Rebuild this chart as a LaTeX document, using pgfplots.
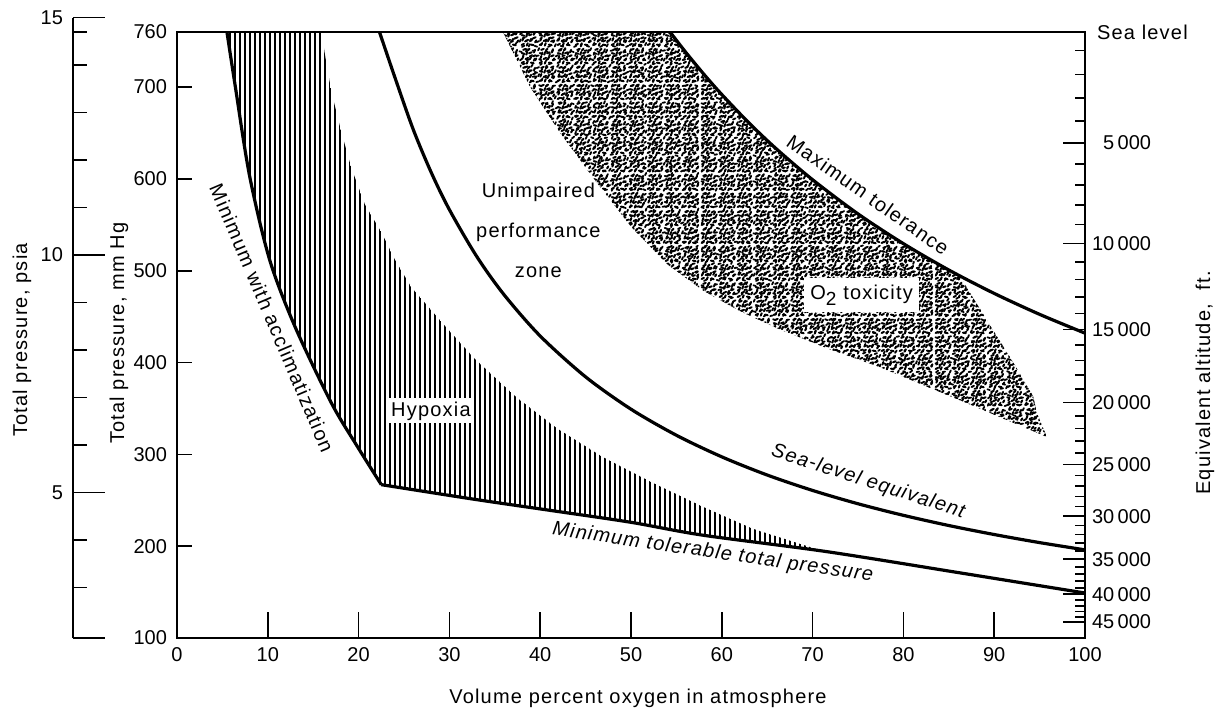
\documentclass[border=0pt]{standalone}
\usepackage{fontspec}
\setmainfont{Liberation Sans}
\newfontfamily\lab{Liberation Sans}[LetterSpace=6]
\newfontfamily\numfont{Liberation Sans}
\usepackage{pgfplots}
\pgfplotsset{compat=1.18}
\usetikzlibrary{patterns,patterns.meta}
\def\sk#1#2#3#4{\pgfpathmoveto{\pgfqpoint{#1pt}{#2pt}}\pgfpathlineto{\pgfqpoint{#3pt}{#4pt}}}
\pgfdeclarepatternformonly{stippleA}{\pgfqpoint{0pt}{0pt}}{\pgfqpoint{9pt}{9pt}}{\pgfqpoint{9pt}{9pt}}{%
 \pgfsetlinewidth{1.0pt}\pgfsetroundcap
 \sk{0.8}{1.0}{2.0}{1.6}\sk{3.4}{0.7}{3.9}{1.9}\sk{5.5}{1.2}{6.9}{0.9}\sk{7.6}{2.3}{8.2}{3.3}%
 \sk{1.2}{3.2}{1.7}{4.5}\sk{2.8}{3.0}{4.1}{3.6}\sk{5.0}{2.9}{5.6}{4.1}\sk{6.6}{4.4}{7.9}{4.9}%
 \sk{0.9}{6.0}{2.2}{5.6}\sk{3.2}{5.2}{3.6}{6.5}\sk{4.6}{5.9}{5.9}{6.4}\sk{7.0}{6.3}{7.6}{7.6}%
 \sk{1.6}{7.6}{2.9}{8.1}\sk{4.0}{7.3}{4.8}{8.2}%
 \pgfusepath{stroke}}
\pgfdeclarepatternformonly{stippleB}{\pgfqpoint{0pt}{0pt}}{\pgfqpoint{13pt}{13pt}}{\pgfqpoint{13pt}{13pt}}{%
 \pgfsetlinewidth{0.9pt}\pgfsetroundcap
 \sk{1.0}{0.8}{2.1}{1.7}\sk{4.3}{1.0}{5.6}{1.2}\sk{7.9}{0.6}{8.5}{1.8}\sk{10.6}{1.4}{11.8}{0.9}%
 \sk{2.6}{3.0}{3.0}{4.2}\sk{5.9}{2.8}{7.1}{3.5}\sk{9.2}{3.0}{10.4}{3.3}\sk{11.9}{3.6}{12.3}{4.8}%
 \sk{0.7}{5.4}{1.9}{5.0}\sk{4.0}{5.2}{4.5}{6.5}\sk{7.3}{5.6}{8.6}{5.9}\sk{10.1}{5.8}{10.7}{7.0}%
 \sk{2.0}{7.6}{3.2}{8.2}\sk{5.4}{7.8}{6.0}{9.0}\sk{8.4}{8.1}{9.7}{7.7}\sk{11.6}{8.4}{12.2}{9.6}%
 \sk{0.9}{10.2}{1.4}{11.4}\sk{3.5}{10.3}{4.8}{10.9}\sk{6.6}{10.6}{7.4}{11.8}\sk{9.4}{10.0}{10.6}{10.5}%
 \sk{2.4}{12.0}{3.5}{12.3}\sk{11.2}{11.6}{12.0}{12.2}%
 \pgfusepath{stroke}}
\newcommand{\fs}{\fontsize{10bp}{12bp}\selectfont}
\pgfplotsset{
  base/.style={at={(0,0)}, anchor=south west, scale only axis, width=454bp, height=303bp,
    xmin=0, xmax=100, ymin=100, ymax=760,
    tick align=inside, tick style={black, line width=0.8bp},
    tick label style={font=\numfont\fs},
    /pgf/number format/assume math mode=true,
    axis line style={line width=1bp}},
}
\begin{document}
\begin{tikzpicture}[font=\lab\fs]
\path[use as bounding box] (-88.5bp,-36.5bp) rectangle (519.5bp,319bp);
% psia scale
\begin{axis}[at={(-52bp,0)}, anchor=south west, scale only axis, width=20bp, height=310.15bp,
  xmin=0, xmax=1, ymin=1.9337, ymax=15, hide x axis, axis y line*=left,
  ytick={1.9337,5,10,15}, yticklabels={,5,10,15},
  minor ytick={3,4,6,7,8,9,11,12,13,14,14.7},
  tick align=inside, major tick length=16bp, minor tick length=7bp,
  tick style={black, line width=0.7bp}, axis line style={line width=0.8bp},
  tick label style={font=\numfont\fs, xshift=-1.5bp},
  /pgf/number format/assume math mode=true]
\end{axis}
% main axis
\begin{axis}[base, clip=false, xtick={0,10,...,100}, xtick pos=bottom, ytick=\empty, major tick length=13bp,
  xticklabel style={yshift=-1bp},
  xlabel={Volume percent oxygen in atmosphere},
  xlabel style={at={(axis description cs:0.5077,-0.099)}, anchor=center},
  ylabel={Total pressure, mm Hg},
  ylabel style={at={(axis description cs:-0.0639,0.503)}, anchor=center}]
% hypoxia hatch
\addplot[draw=none, pattern={Lines[angle=90, distance=2.5bp, line width=1.2bp]}] coordinates {
 (5.5,760) (15.9,760) (16.3,735) (17.0,695) (18.1,651) (19.2,612) (20.7,572) (22.5,542)
 (24.0,512) (25.8,482) (29.5,440) (32.8,404) (37.4,362) (41.9,328) (46.9,297) (52.4,269)
 (57.9,243) (63.4,219) (71.0,195) (57.9,212) (50,226) (41.1,239) (32.8,251) (22.5,267)
 (19.9,308) (17.0,356) (13.0,439) (10.2,512) (8.0,603) (6.4,702) (5.5,760)} -- cycle;
% O2 toxicity stipple
\pgfplotstableread{
x y
35.9 760
54.3 760
56 738.3
58 714.3
60 691.9
63 660.9
66 632.8
70 599.1
75 561.9
80 529.5
85 500.8
86.2 494.4
89.2 446
92.1 400
94.3 363
94.7 345
95.8 319
86.2 359
77.4 395
72 414
66.4 436
62 456
58 478
54 507
50 548
46.3 595
42.2 650
38.9 700
35.9 760
}\toxtab
\addplot[draw=none, pattern=stippleA] table {\toxtab} -- cycle;
\addplot[draw=none, pattern=stippleB] table {\toxtab} -- cycle;
% minimum with acclimatization
\addplot[smooth, line width=1.6bp] coordinates {
 (5.5,760) (6.4,702) (8.0,603) (10.2,512) (13.0,439) (17.0,356) (19.9,308) (22.5,267)};
% minimum tolerable total pressure
\addplot[smooth, line width=1.6bp] coordinates {
 (22.5,267) (32.8,251) (41.1,239) (50,226) (57.9,212) (71.6,194) (86.2,171) (100,149)};
% sea-level equivalent
\addplot[smooth, line width=1.6bp] coordinates {
 (22.3,760) (24,710.5) (26,654.3) (28,607) (30,566.5) (33,515.7) (36,474.1) (40,428.9)
 (45,384.4) (50,349.2) (55,320.8) (60,297.3) (65,277.5) (70,260.7) (75,246.2) (80,233.6)
 (85,222.5) (90,212.7) (95,203.9) (100,196)};
% maximum tolerance
\addplot[smooth, line width=1.6bp] coordinates {
 (54.3,760) (56,738.3) (58,714.3) (60,691.9) (63,660.9) (66,632.8) (70,599.1) (75,561.9)
 (80,529.5) (85,500.8) (90,475.3) (95,452.5) (100,432)};
% labels
\node[rotate=-67] at (axis cs:10.46,448.6) {Minimum with acclimatization};
\node[fill=white, inner sep=1.6bp] at (axis cs:27.97,347.3) {Hypoxia};
\node[anchor=base] at (axis cs:39.8,579.3) {Unimpaired};
\node[anchor=base] at (axis cs:39.8,535.8) {performance};
\node[anchor=base] at (axis cs:39.8,492.2) {zone};
\node[fill=white, inner xsep=3bp, inner ysep=3.5bp] at (axis cs:75.4,473.6) {O\raisebox{-3bp}{\numfont\fontsize{9.5bp}{10bp}\selectfont 2} toxicity};
\node[rotate=-35] at (axis cs:76.1,582.6) {Maximum tolerance};
\node[rotate=-17.9, font=\lab\itshape\fs] at (axis cs:76.1,269.9) {Sea-level equivalent};
\node[rotate=-8.3, font=\lab\itshape\fs] at (axis cs:59.0,192.6) {Minimum tolerable total pressure};
\node[rotate=90] at (rel axis cs:-0.1707,0.4917) {Total pressure, psia};
\node[rotate=90] at (rel axis cs:1.1322,0.4208) {Equivalent altitude,\ \ ft.};
\end{axis}
% left mm Hg ticks
\begin{axis}[base, hide x axis, axis y line*=left,
  ytick={100,200,300,400,500,600,700,760}, major tick length=7.5bp,
  yticklabel style={xshift=-1.5bp}]
\end{axis}
% right altitude ticks
\begin{axis}[base, hide x axis, axis y line*=right,
  ytick={760,639.4,529.7,435.9,356.3,289.0,232.7,185.8,147.7,117.6},
  yticklabels={{\lab Sea level},\makebox[27bp][r]{5\,000},\makebox[27bp][r]{10\,000},\makebox[27bp][r]{15\,000},\makebox[27bp][r]{20\,000},\makebox[27bp][r]{25\,000},\makebox[27bp][r]{30\,000},\makebox[27bp][r]{35\,000},\makebox[27bp][r]{40\,000},\makebox[27bp][r]{45\,000}},
  minor ytick={739.9,713.7,688.1,663.4,616.0,593.4,571.5,550.3,509.7,490.3,471.6,453.5,418.9,402.4,386.5,371.1,341.9,328.0,314.5,301.6,276.9,265.3,254.0,243.2,222.6,212.9,203.5,194.5,177.5,169.5,161.9,154.6,141.1,134.8,128.8,123.1},
  major tick length=11bp, minor tick length=5bp,
  yticklabel style={anchor=west, xshift=2.5bp}]
\end{axis}
\end{tikzpicture}
\end{document}
